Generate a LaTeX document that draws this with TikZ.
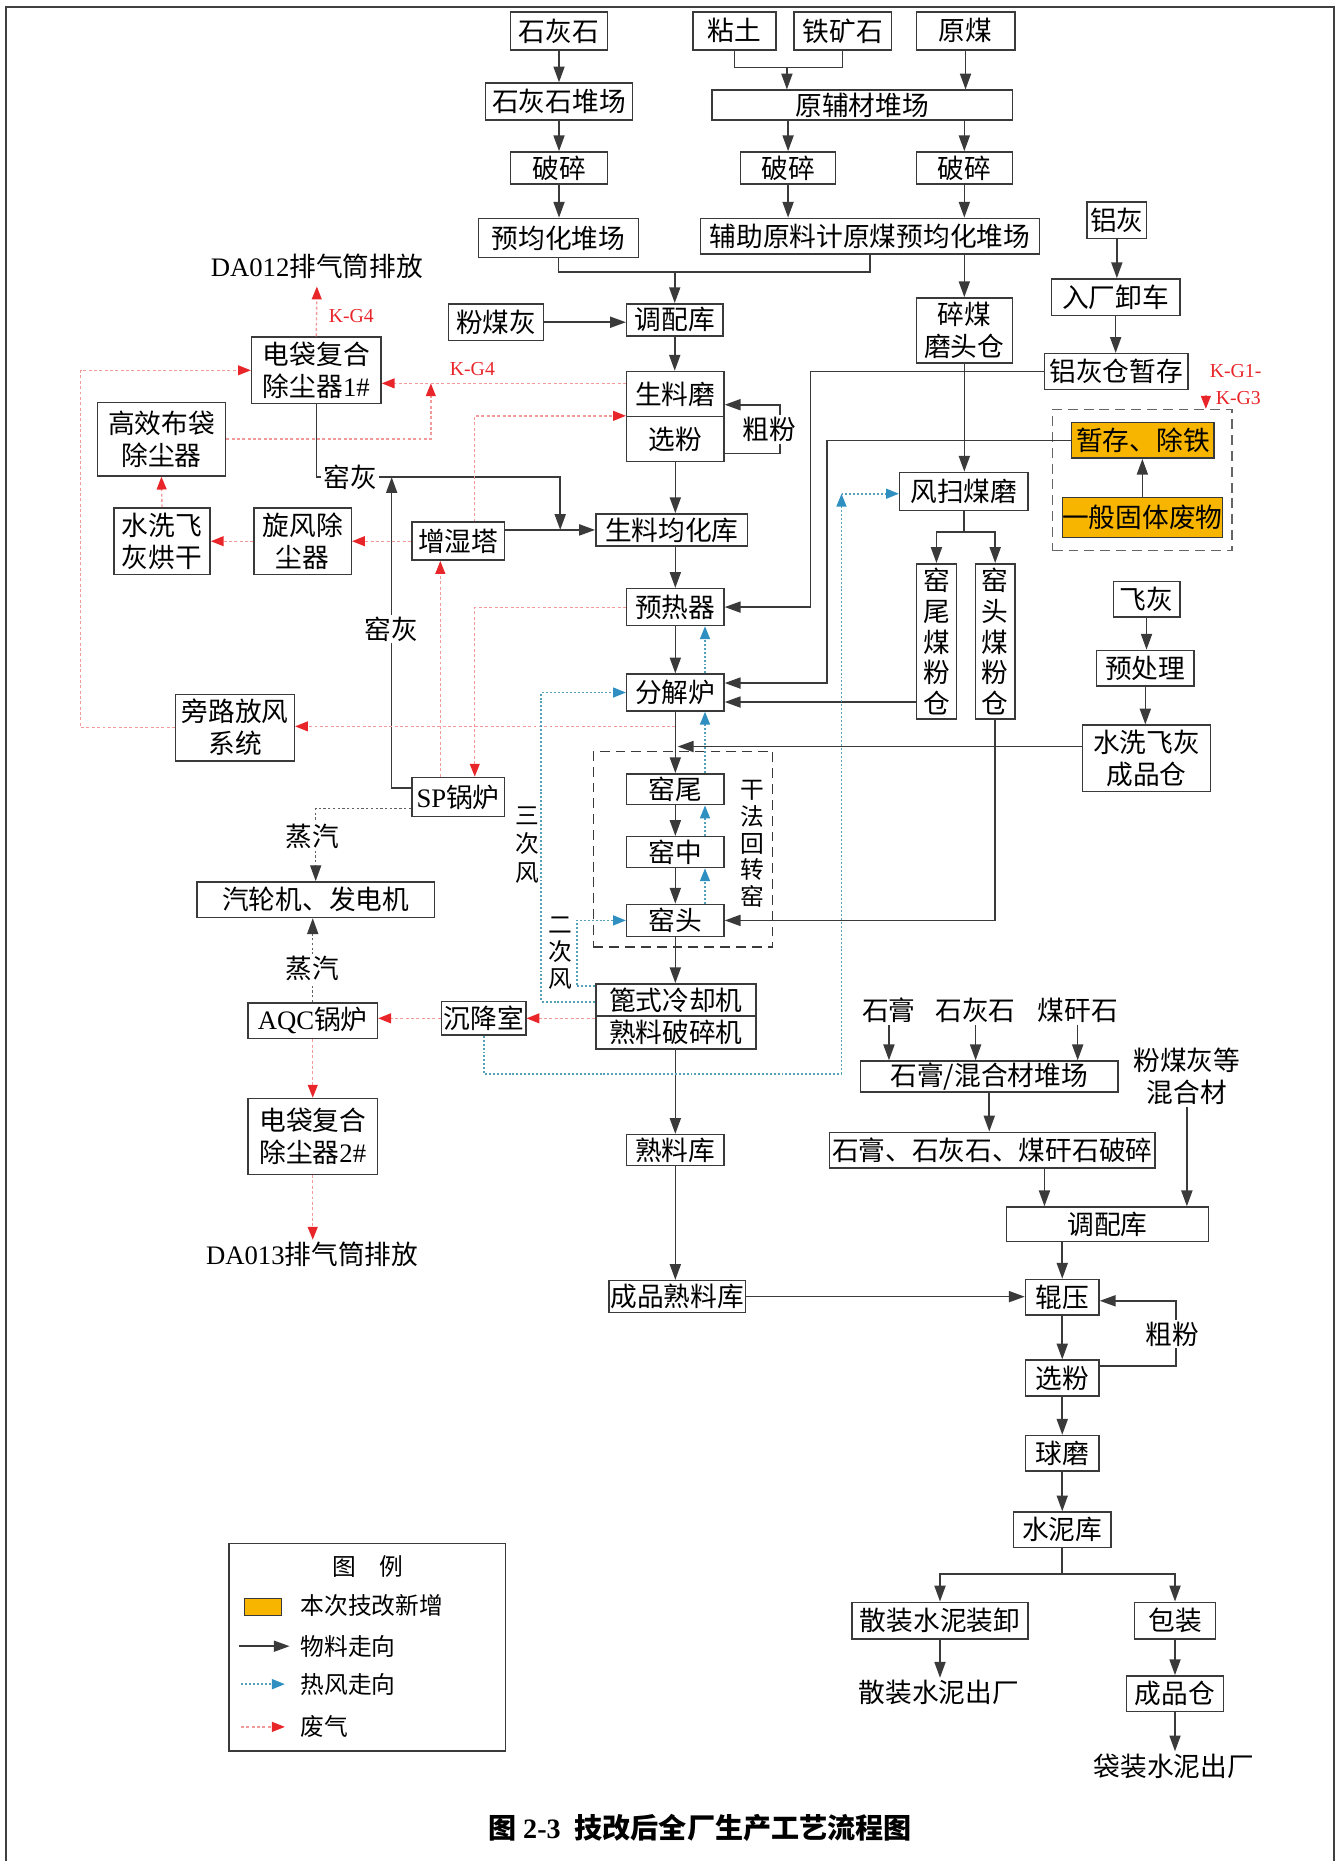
\documentclass[tikz,border=0pt]{standalone}
\usepackage{fontspec}
\setmainfont{Noto Sans CJK SC}
\newfontfamily\lat{Liberation Serif}
\usetikzlibrary{arrows.meta}
\newdimen\ux \ux=0.6pt
\definecolor{linec}{HTML}{3A3A3A}
\definecolor{gasc}{HTML}{F29A9A}
\definecolor{gasa}{HTML}{E8262A}
\definecolor{hotc}{HTML}{4AA8C8}
\definecolor{hota}{HTML}{2E8FC0}
\definecolor{newc}{HTML}{F7B500}
\newcommand\bx[6]{\node[box,minimum width=#4\ux,minimum height=#5\ux] (#1) at (#2,#3) {#6};}
\begin{document}
\begin{tikzpicture}[x=0.6pt,y=-0.6pt,
  font=\fontsize{13.5}{16.2}\selectfont,
  box/.style={draw=linec,line width=0.75pt,inner sep=0pt,align=center,fill=white},
  newbox/.style={box,fill=newc},
  ln/.style={draw=linec,line width=0.8pt},
  mat/.style={ln,-{Triangle[length=8pt,width=5.6pt]}},
  gas/.style={draw=gasc,line width=0.7pt,dash pattern=on 1.5pt off 1.2pt,-{Triangle[length=6.5pt,width=5pt,color=gasa]}},
  hotl/.style={draw=hotc!80!gray,line width=0.9pt,dash pattern=on 1pt off 1pt},
  hot/.style={hotl,-{Triangle[length=6.5pt,width=5pt,color=hota]}},
  steaml/.style={draw=linec!80,line width=0.7pt,dash pattern=on 1.2pt off 1.2pt},
  steam/.style={steaml,-{Triangle[length=8pt,width=5.6pt,color=linec]}},
  lbl/.style={inner sep=1pt},
  lblw/.style={inner sep=1pt,fill=white},
  kg/.style={inner sep=0pt,text=gasa,font=\lat\fontsize{10}{12}\selectfont},
  vlbl/.style={inner sep=0pt,align=center},
  lgt/.style={inner sep=0pt,font=\fontsize{12}{14}\selectfont}]
\useasboundingbox (0,0) rectangle (1128,1568);
\draw[draw=black!75,line width=0.8pt] (5,1570) -- (5,6) -- (1124,6) -- (1124,1570);

% ---------- dashed groups ----------
\node[draw=linec,dash pattern=on 5pt off 3pt,line width=0.7pt,minimum width=151\ux,minimum height=165\ux,inner sep=0pt] (kiln) at (575.5,715.5) {};
\node[draw=black!60,dash pattern=on 5pt off 3pt,line width=0.7pt,minimum width=151\ux,minimum height=119\ux,inner sep=0pt] (newgrp) at (962.5,404.5) {};

% ---------- boxes ----------
\bx{shs}{471}{26}{82}{32}{石灰石}
\bx{zt}{619}{26}{70}{32}{粘土}
\bx{tks}{710}{26}{82}{32}{铁矿石}
\bx{ym}{813.5}{26}{83}{32}{原煤}
\bx{shsdc}{471}{85.5}{124}{31}{石灰石堆场}
\bx{yfc}{726.5}{88.5}{253}{25}{原辅材堆场}
\bx{psL}{471}{141.5}{82}{27}{破碎}
\bx{psM}{664}{141.5}{80}{27}{破碎}
\bx{psR}{812.5}{141.5}{81}{27}{破碎}
\bx{yjh}{470.5}{200.5}{135}{33}{预均化堆场}
\bx{fz}{733}{199}{286}{30}{辅助原料计原煤预均化堆场}
\bx{tpk}{568.5}{269.5}{81}{27}{调配库}
\bx{fmh}{418}{271.5}{80}{31}{粉煤灰}
\bx{smt}{812.5}{278.5}{81}{55}{碎煤\\磨头仓}
\bx{lh}{941}{185.5}{50}{31}{铝灰}
\bx{rc}{940}{250.5}{108}{31}{入厂卸车}
\bx{lhc}{940.5}{313}{121}{30}{铝灰仓暂存}
\bx{slm}{569}{332}{82}{38}{生料磨}
\bx{xf}{569}{370}{82}{38}{选粉}
\bx{dd1}{266.5}{312}{109}{56}{电袋复合\\除尘器{\lat 1\#}}
\bx{gx}{136}{370}{108}{62}{高效布袋\\除尘器}
\bx{sxh}{136.5}{456}{81}{56}{水洗飞\\灰烘干}
\bx{xfc}{255}{456}{82}{56}{旋风除\\尘器}
\bx{zst}{386}{456}{78}{32}{增湿塔}
\bx{sljh}{566}{446.5}{128}{27}{生料均化库}
\bx{yrq}{569}{511.5}{82}{31}{预热器}
\bx{fjl}{569}{583.5}{82}{31}{分解炉}
\bx{bl}{198}{613}{100}{56}{旁路放风\\系统}
\bx{sp}{386}{671.5}{78}{33}{{\lat SP}锅炉}
\bx{yw}{569}{665}{82}{26}{窑尾}
\bx{yz}{569}{718}{82}{26}{窑中}
\bx{yt}{569}{775.5}{82}{27}{窑头}
\bx{qlj}{266}{758}{200}{30}{汽轮机、发电机}
\bx{aqc}{263.5}{860}{109}{30}{{\lat AQC}锅炉}
\bx{cjs}{407.5}{858}{71}{28}{沉降室}
\bx{lqj}{569.5}{842.5}{135}{27}{篦式冷却机}
\bx{psj}{569.5}{870}{135}{28}{熟料破碎机}
\bx{dd2}{263.5}{957.5}{109}{64}{电袋复合\\除尘器{\lat 2\#}}
\bx{slk}{569}{969}{82}{26}{熟料库}
\bx{cpsl}{570.5}{1092.5}{115}{27}{成品熟料库}
\bx{fsm}{812}{414}{108}{32}{风扫煤磨}
\node[box,minimum width=34\ux,minimum height=131\ux,font=\fontsize{13.5}{15.6}\selectfont] (ywm) at (789,540.5) {窑\\尾\\煤\\粉\\仓};
\node[box,minimum width=33\ux,minimum height=131\ux,font=\fontsize{13.5}{15.6}\selectfont] (ytm) at (838.5,540.5) {窑\\头\\煤\\粉\\仓};
\node[newbox,minimum width=120\ux,minimum height=30\ux] (zc) at (963,371) {暂存、除铁};
\node[newbox,minimum width=135\ux,minimum height=34\ux] (yb) at (962.5,436) {一般固体废物};
\bx{fh}{966}{505}{56}{30}{飞灰}
\bx{ycl}{965}{563}{82}{30}{预处理}
\bx{sxcp}{966}{639}{108}{56}{水洗飞灰\\成品仓}
\node[lbl] (sg) at (749,851) {石膏};
\node[lbl] (shs2) at (822,851) {石灰石};
\node[lbl] (mgs) at (908,851) {煤矸石};
\bx{hhc}{833.5}{907}{217}{26}{石膏/混合材堆场}
\bx{ps2}{836}{969}{274}{30}{石膏、石灰石、煤矸石破碎}
\node[lbl,align=center] (fmhd) at (1000,907) {粉煤灰等\\混合材};
\bx{tpk2}{933}{1031.5}{170}{29}{调配库}
\bx{gy}{895}{1093}{62}{30}{辊压}
\bx{xf2}{895}{1161}{62}{30}{选粉}
\bx{qm}{895}{1224.5}{62}{30}{球磨}
\bx{snk}{895}{1289}{82}{30}{水泥库}
\bx{sz}{792}{1365.5}{148}{31}{散装水泥装卸}
\bx{bz}{990}{1365.5}{68}{31}{包装}
\bx{cpc}{990}{1427}{82}{30}{成品仓}
\node[lbl] (szcc) at (791,1426) {散装水泥出厂};
\node[lbl] (dzcc) at (989,1488) {袋装水泥出厂};
\node[lbl] (da12) at (267,224) {{\lat DA012}排气筒排放};
\node[lbl] (da13) at (263,1057) {{\lat DA013}排气筒排放};

% ---------- material flow ----------
\draw[mat] (shs.south) -- (shsdc.north);
\coordinate (j1) at (663,57);
\draw[ln] (zt.south) |- (j1) -| (tks.south);
\draw[mat] (j1) -- (j1 |- yfc.north);
\draw[mat] (ym.south) -- (ym.south |- yfc.north);
\draw[mat] (shsdc.south) -- (psL.north);
\draw[mat] (psM.north |- yfc.south) -- (psM.north);
\draw[mat] (psR.north |- yfc.south) -- (psR.north);
\draw[mat] (psL.south) -- (psL.south |- yjh.north);
\draw[mat] (psM.south) -- (psM.south |- fz.north);
\draw[mat] (psR.south) -- (psR.south |- fz.north);
\coordinate (j2) at (568.5,229);
\draw[ln] (yjh.south) |- (j2);
\draw[ln] (fz.south) |- (j2);
\draw[mat] (j2) -- (tpk.north);
\draw[mat] (fz.south -| smt.north) -- (smt.north);
\draw[mat] (fmh.east) -- (fmh.east -| tpk.west);
\draw[mat] (tpk.south) -- (tpk.south |- slm.north);
\draw[mat] (lh.south) -- (lh.south |- rc.north);
\draw[mat] (rc.south) -- (rc.south |- lhc.north);
\coordinate (cf1) at (657,382);
\coordinate (cf2) at (657,341);
\draw[mat] (xf.east |- cf1) -- (cf1) -- (cf2) -- (slm.east |- cf2);
\node[lblw] at (648,362) {粗粉};
\draw[mat] (xf.south) -- (xf.south |- sljh.north);
\draw[mat] (yrq.north |- sljh.south) -- (yrq.north);
\draw[mat] (yrq.south) -- (fjl.north);
\draw[mat] (fjl.south) -- (yw.north);
\draw[mat] (yw.south) -- (yz.north);
\draw[mat] (yz.south) -- (yt.north);
\draw[mat] (yt.south) -- (yt.south |- lqj.north);
\draw[mat] (psj.south -| slk.north) -- (slk.north);
\draw[mat] (slk.south) -- (slk.south |- cpsl.north);
\draw[mat] (cpsl.east) -- (cpsl.east -| gy.west);
\draw[mat] (zst.east |- sljh.west) -- (sljh.west);
% kiln ash
\node[lbl] (yhl) at (295,402) {窑灰};
\draw[ln] (dd1.south) |- (yhl.west);
\coordinate (yh2) at (472,402);
\draw[mat] (yhl.east) -- (yh2) -- (yh2 |- sljh.west);
\coordinate (yh3) at (330,402);
\coordinate (sp1) at (386,664);
\draw[mat] (sp.west |- sp1) -| (yh3);
\node[lblw] at (330,530) {窑灰};
% right side material
\coordinate (m1) at (683,400);
\draw[mat] (lhc.west) -| (m1) |- (yrq.east);
\coordinate (m2) at (697,500);
\coordinate (fjlU) at ([yshift=4.8pt]fjl.east);
\coordinate (fjlL) at ([yshift=-4.8pt]fjl.east);
\draw[mat] (zc.west) -| (m2) |- (fjlU);
\draw[mat] (fjlL -| ywm.west) -- (fjlL);
\draw[mat] (smt.south) -- (smt.south |- fsm.north);
\coordinate (m3) at (812,448);
\draw[ln] (fsm.south) -- (m3);
\draw[mat] (m3) -| (ywm.north);
\draw[mat] (m3) -| (ytm.north);
\draw[mat] (ytm.south) |- (yt.east);
\coordinate (m4) at (571,629);
\draw[mat] (sxcp.west |- m4) -- (m4);
\draw[mat] (yb.north) -- (yb.north |- zc.south);
\draw[mat] (fh.south) -- (fh.south |- ycl.north);
\draw[mat] (ycl.south) -- (ycl.south |- sxcp.north);
% cement side
\draw[mat] (sg.south) -- (sg.south |- hhc.north);
\draw[mat] (shs2.south) -- (shs2.south |- hhc.north);
\draw[mat] (mgs.south) -- (mgs.south |- hhc.north);
\draw[mat] (hhc.south) -- (hhc.south |- ps2.north);
\coordinate (b1) at (880,1000);
\draw[mat] (ps2.south -| b1) -- (tpk2.north -| b1);
\draw[mat] (fmhd.south) -- (fmhd.south |- tpk2.north);
\draw[mat] (gy.north |- tpk2.south) -- (gy.north);
\draw[mat] (gy.south) -- (xf2.north);
\coordinate (b2) at (991,1151);
\coordinate (b3) at (991,1096);
\draw[mat] (xf2.east |- b2) -- (b2) -- (b3) -- (gy.east |- b3);
\node[lblw] at (988,1124) {粗粉};
\draw[mat] (xf2.south) -- (qm.north);
\draw[mat] (qm.south) -- (snk.north);
\coordinate (b4) at (895,1326);
\draw[ln] (snk.south) -- (b4);
\draw[mat] (b4) -| (sz.north);
\draw[mat] (b4) -| (bz.north);
\draw[mat] (sz.south) -- (sz.south |- szcc.north);
\draw[mat] (bz.south) -- (cpc.north);
\draw[mat] (cpc.south) -- (cpc.south |- dzcc.north);

% ---------- exhaust gas ----------
\coordinate (gK) at (0,323);
\draw[gas] (slm.west |- gK) -- (dd1.east |- gK);
\coordinate (g2) at (363,323);
\draw[gas] (gx.east) -| (g2);
\node[kg] at (398,311) {K-G4};
\draw[gas] (dd1.north) -- ([yshift=-3pt]da12.south);
\node[kg] at (296,266) {K-G4};
\coordinate (g3) at (68,450);
\draw[gas] (bl.west) -| (g3) |- (dd1.west);
\coordinate (g4) at (569,612);
\draw[gas] (g4) -- (bl.east |- g4);
\draw[gas] (zst.west) -- (xfc.east);
\draw[gas] (xfc.west) -- (sxh.east);
\draw[gas] (sxh.north) -- (gx.south);
\coordinate (g5) at (371,600);
\draw[gas] (sp.north -| g5) -- (zst.south -| g5);
\coordinate (g6) at (400,512);
\draw[gas] (yrq.west |- g6) -- (g6) -- (sp.north -| g6);
\coordinate (g7) at (400,400);
\draw[gas] (zst.north -| g7) |- (xf.north west);
\draw[gas] (lqj.west |- cjs.east) -- (cjs.east);
\draw[gas] (cjs.west) -- (cjs.west -| aqc.east);
\draw[gas] (aqc.south) -- (aqc.south |- dd2.north);
\draw[gas] (dd2.south) -- (dd2.south |- da13.north);
\coordinate (kgs) at (1016,333);
\draw[gas] (kgs) -- (kgs |- newgrp.north);
\node[kg,anchor=west] at (1019,313) {K-G1-};
\node[kg,anchor=west] at (1024,335) {K-G3};

% ---------- steam ----------
\coordinate (s1) at (266,681);
\draw[steam] (sp.west |- s1) -| (qlj.north);
\node[lblw] at (263,705) {蒸汽};
\draw[steam] (aqc.north) -- (aqc.north |- qlj.south);
\node[lblw] at (263,816) {蒸汽};

% ---------- hot air ----------
\coordinate (h1) at (456,844);
\draw[hot] (lqj.west |- h1) -- (h1) |- (fjl.west);
\coordinate (h2) at (486,831);
\draw[hot] (lqj.west |- h2) -- (h2) |- (yt.west);
\coordinate (h3) at (594,700);
\draw[hot] (yt.north -| h3) -- (yz.south -| h3);
\draw[hot] (yz.north -| h3) -- (yw.south -| h3);
\draw[hot] (yw.north -| h3) -- (fjl.south -| h3);
\draw[hot] (fjl.north -| h3) -- (yrq.south -| h3);
\coordinate (h5) at (709,905);
\coordinate (h6) at (709,416);
\draw[hotl] (cjs.south) |- (h5);
\draw[hot] (h5) -- (h6);
\draw[hot] (h6) -- (h6 -| fsm.west);
\node[vlbl,font=\fontsize{12}{14.4}\selectfont] at (444,712) {三\\次\\风};
\node[vlbl,font=\fontsize{12}{13.6}\selectfont] at (472,803) {二\\次\\风};
\node[vlbl,font=\fontsize{12}{13.6}\selectfont] at (634,711) {干\\法\\回\\转\\窑};

% ---------- legend ----------
\node[draw=linec,line width=0.8pt,minimum width=233\ux,minimum height=175\ux,inner sep=0pt] (lg) at (309.5,1388) {};
\node[lgt] (lgh) at (310,1320) {图\quad 例};
\node[draw=linec,fill=newc,line width=0.7pt,minimum width=31\ux,minimum height=14\ux,inner sep=0pt] (lgo) at (221.5,1354) {};
\node[lgt,anchor=west] (lt1) at (253,1353) {本次技改新增};
\coordinate (la1) at (201,1387); \coordinate (la2) at (244,1387);
\draw[mat] (la1) -- (la2);
\node[lgt,anchor=west] (lt2) at (253,1387) {物料走向};
\coordinate (lb1) at (203,1419); \coordinate (lb2) at (240,1419);
\draw[hot] (lb1) -- (lb2);
\node[lgt,anchor=west] (lt3) at (253,1419) {热风走向};
\coordinate (lc1) at (203,1455); \coordinate (lc2) at (240,1455);
\draw[gas] (lc1) -- (lc2);
\node[lgt,anchor=west] (lt4) at (253,1455) {废气};

% ---------- title ----------
\node[inner sep=0pt,font=\bfseries\fontsize{14.2}{17}\selectfont] (title) at (590,1540) {图 {\lat\bfseries 2-3}\enspace 技改后全厂生产工艺流程图};
\end{tikzpicture}
\end{document}
